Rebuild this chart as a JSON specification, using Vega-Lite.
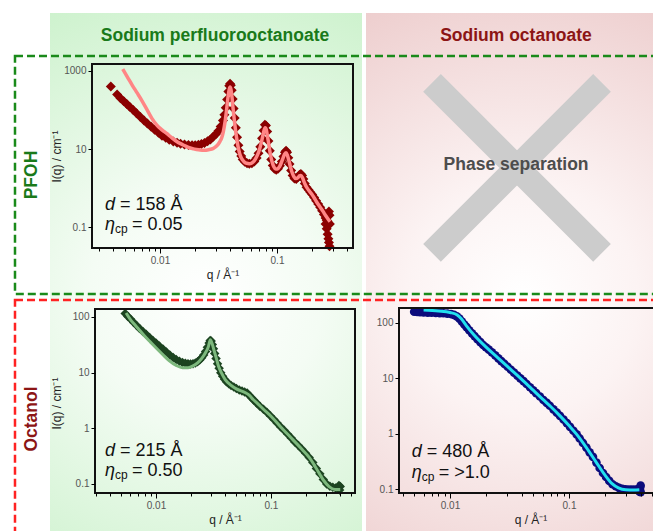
{
  "$schema": "https://vega.github.io/schema/vega-lite/v6.json",
  "width": 638,
  "height": 518,
  "padding": {"left": 15, "top": 13, "right": 0, "bottom": 0},
  "autosize": {"type": "none"},
  "background": "white",
  "config": {"view": {"stroke": null}, "font": "Liberation Sans", "axis": {"labelFont": "Liberation Sans", "titleFont": "Liberation Sans"}},
  "datasets": {
    "A_data": [
      {"q":0.0038,"I":400},{"q":0.0043,"I":250},{"q":0.0046,"I":200},{"q":0.0049,"I":168},{"q":0.0052,"I":142},{"q":0.0055,"I":122},{"q":0.0059,"I":100},{"q":0.0063,"I":83},{"q":0.0068,"I":66},{"q":0.0073,"I":54},{"q":0.0078,"I":45},{"q":0.0084,"I":37},{"q":0.009,"I":31},{"q":0.0097,"I":26},{"q":0.0104,"I":22},{"q":0.0112,"I":19.3},{"q":0.012,"I":17.3},{"q":0.013,"I":15.6},{"q":0.014,"I":14.5},{"q":0.015,"I":13.7},{"q":0.0162,"I":13.1},{"q":0.0175,"I":12.7},{"q":0.0188,"I":12.5},{"q":0.02,"I":12.5},{"q":0.0213,"I":12.8},{"q":0.0226,"I":13.4},{"q":0.024,"I":14.3},{"q":0.0255,"I":15.7},{"q":0.027,"I":17.6},{"q":0.0285,"I":20.5},{"q":0.03,"I":24},{"q":0.0315,"I":29},{"q":0.033,"I":38},{"q":0.0345,"I":54},{"q":0.0355,"I":75},{"q":0.0365,"I":115},{"q":0.0375,"I":185},{"q":0.0384,"I":300},{"q":0.0391,"I":420},{"q":0.0397,"I":470},{"q":0.0403,"I":430},{"q":0.041,"I":320},{"q":0.0418,"I":190},{"q":0.0426,"I":110},{"q":0.0435,"I":62},{"q":0.0445,"I":35},{"q":0.0456,"I":20},{"q":0.0468,"I":12.5},{"q":0.048,"I":8.6},{"q":0.0495,"I":6.6},{"q":0.051,"I":5.4},{"q":0.053,"I":4.7},{"q":0.0555,"I":4.3},{"q":0.058,"I":4.2},{"q":0.061,"I":4.3},{"q":0.064,"I":4.8},{"q":0.067,"I":5.9},{"q":0.0695,"I":7.8},{"q":0.072,"I":11.5},{"q":0.0745,"I":19},{"q":0.0768,"I":30},{"q":0.0788,"I":42},{"q":0.0805,"I":40},{"q":0.0825,"I":28},{"q":0.0845,"I":16},{"q":0.0868,"I":9},{"q":0.0893,"I":5.4},{"q":0.092,"I":3.8},{"q":0.095,"I":3.1},{"q":0.0985,"I":2.95},{"q":0.102,"I":3.1},{"q":0.106,"I":3.7},{"q":0.11,"I":4.8},{"q":0.1135,"I":6.4},{"q":0.117,"I":8.2},{"q":0.1195,"I":9},{"q":0.122,"I":8.2},{"q":0.125,"I":6},{"q":0.128,"I":4.1},{"q":0.132,"I":2.8},{"q":0.136,"I":2.1},{"q":0.141,"I":1.75},{"q":0.146,"I":1.7},{"q":0.151,"I":1.9},{"q":0.156,"I":2.2},{"q":0.16,"I":2.3},{"q":0.164,"I":2.1},{"q":0.168,"I":1.7},{"q":0.173,"I":1.3},{"q":0.179,"I":1.05},{"q":0.186,"I":0.9},{"q":0.193,"I":0.78},{"q":0.2,"I":0.68},{"q":0.208,"I":0.57},{"q":0.216,"I":0.47},{"q":0.225,"I":0.39},{"q":0.234,"I":0.32},{"q":0.243,"I":0.26},{"q":0.252,"I":0.21},{"q":0.26,"I":0.17},{"q":0.26,"I":0.12},{"q":0.266,"I":0.15},{"q":0.266,"I":0.09},{"q":0.271,"I":0.14},{"q":0.271,"I":0.065},{"q":0.275,"I":0.21},{"q":0.275,"I":0.05},{"q":0.278,"I":0.25},{"q":0.278,"I":0.04},{"q":0.281,"I":0.2},{"q":0.281,"I":0.032},{"q":0.283,"I":0.12}
    ],
    "A_fit": [
      {"q":0.0048,"I":1120},{"q":0.0053,"I":680},{"q":0.0058,"I":430},{"q":0.0064,"I":270},{"q":0.007,"I":175},{"q":0.0077,"I":105},{"q":0.0085,"I":62},{"q":0.0094,"I":41},{"q":0.0104,"I":31},{"q":0.0114,"I":25},{"q":0.0126,"I":19.5},{"q":0.014,"I":15.3},{"q":0.0158,"I":12.7},{"q":0.0175,"I":11},{"q":0.019,"I":10.2},{"q":0.0205,"I":9.7},{"q":0.022,"I":9.4},{"q":0.024,"I":9.3},{"q":0.026,"I":9.6},{"q":0.0286,"I":10.4},{"q":0.031,"I":12.5},{"q":0.0325,"I":15.5},{"q":0.0336,"I":19},{"q":0.0348,"I":28},{"q":0.036,"I":50},{"q":0.0372,"I":110},{"q":0.0382,"I":220},{"q":0.039,"I":330},{"q":0.0397,"I":390},{"q":0.0404,"I":340},{"q":0.0412,"I":220},{"q":0.042,"I":120},{"q":0.043,"I":62},{"q":0.044,"I":34},{"q":0.0452,"I":19},{"q":0.0465,"I":11.5},{"q":0.048,"I":7.6},{"q":0.0497,"I":5.8},{"q":0.052,"I":4.8},{"q":0.055,"I":4.3},{"q":0.058,"I":4.2},{"q":0.061,"I":4.4},{"q":0.064,"I":5},{"q":0.067,"I":6.3},{"q":0.07,"I":8.6},{"q":0.073,"I":13.5},{"q":0.0755,"I":21},{"q":0.0775,"I":30},{"q":0.0792,"I":35},{"q":0.081,"I":31},{"q":0.083,"I":21},{"q":0.0855,"I":12},{"q":0.088,"I":7},{"q":0.091,"I":4.6},{"q":0.094,"I":3.5},{"q":0.0975,"I":3.05},{"q":0.101,"I":3.05},{"q":0.105,"I":3.5},{"q":0.109,"I":4.5},{"q":0.113,"I":6},{"q":0.1165,"I":7.5},{"q":0.1195,"I":8},{"q":0.1225,"I":7},{"q":0.126,"I":5.2},{"q":0.13,"I":3.6},{"q":0.134,"I":2.6},{"q":0.139,"I":2},{"q":0.145,"I":1.75},{"q":0.151,"I":1.85},{"q":0.156,"I":2.05},{"q":0.16,"I":2.1},{"q":0.165,"I":1.85},{"q":0.17,"I":1.45},{"q":0.176,"I":1.15},{"q":0.183,"I":0.95},{"q":0.19,"I":0.82},{"q":0.198,"I":0.7},{"q":0.207,"I":0.57},{"q":0.217,"I":0.45},{"q":0.228,"I":0.36},{"q":0.24,"I":0.29},{"q":0.252,"I":0.23},{"q":0.264,"I":0.185},{"q":0.275,"I":0.155},{"q":0.284,"I":0.137}
    ],
    "C_data": [
      {"q":0.0054,"I":115},{"q":0.0057,"I":102},{"q":0.006,"I":92},{"q":0.0064,"I":80},{"q":0.0068,"I":70},{"q":0.0072,"I":62},{"q":0.0077,"I":55},{"q":0.0082,"I":49},{"q":0.0088,"I":43},{"q":0.0094,"I":38},{"q":0.01,"I":34},{"q":0.0107,"I":30},{"q":0.0115,"I":26.5},{"q":0.0123,"I":23.5},{"q":0.0132,"I":20.8},{"q":0.0141,"I":18.8},{"q":0.015,"I":17.2},{"q":0.016,"I":16},{"q":0.017,"I":15.2},{"q":0.018,"I":14.7},{"q":0.019,"I":14.4},{"q":0.02,"I":14.3},{"q":0.021,"I":14.4},{"q":0.022,"I":14.9},{"q":0.023,"I":15.7},{"q":0.024,"I":16.9},{"q":0.025,"I":18.5},{"q":0.026,"I":20.8},{"q":0.027,"I":24},{"q":0.028,"I":28.5},{"q":0.029,"I":34},{"q":0.0296,"I":38},{"q":0.0302,"I":37},{"q":0.0309,"I":32},{"q":0.0316,"I":27},{"q":0.0324,"I":22},{"q":0.0333,"I":18},{"q":0.0343,"I":14.5},{"q":0.0354,"I":12},{"q":0.0366,"I":10},{"q":0.038,"I":8.6},{"q":0.0395,"I":7.6},{"q":0.041,"I":6.9},{"q":0.043,"I":6.3},{"q":0.045,"I":5.9},{"q":0.0475,"I":5.5},{"q":0.05,"I":5.2},{"q":0.053,"I":4.9},{"q":0.056,"I":4.7},{"q":0.059,"I":4.5},{"q":0.062,"I":4.3},{"q":0.065,"I":3.9},{"q":0.068,"I":3.5},{"q":0.071,"I":3.2},{"q":0.075,"I":2.85},{"q":0.08,"I":2.5},{"q":0.086,"I":2.2},{"q":0.092,"I":1.95},{"q":0.099,"I":1.67},{"q":0.106,"I":1.44},{"q":0.113,"I":1.25},{"q":0.121,"I":1.07},{"q":0.13,"I":0.92},{"q":0.14,"I":0.78},{"q":0.15,"I":0.67},{"q":0.161,"I":0.57},{"q":0.173,"I":0.49},{"q":0.186,"I":0.42},{"q":0.2,"I":0.355},{"q":0.215,"I":0.3},{"q":0.231,"I":0.243},{"q":0.248,"I":0.19},{"q":0.266,"I":0.152},{"q":0.285,"I":0.121},{"q":0.305,"I":0.1},{"q":0.325,"I":0.091},{"q":0.345,"I":0.087},{"q":0.365,"I":0.085},{"q":0.385,"I":0.085},{"q":0.4,"I":0.09},{"q":0.395,"I":0.078},{"q":0.39,"I":0.094}
    ],
    "C_fit": [
      {"q":0.0055,"I":118},{"q":0.006,"I":90},{"q":0.0065,"I":74},{"q":0.007,"I":62},{"q":0.008,"I":45},{"q":0.009,"I":35},{"q":0.01,"I":28},{"q":0.0115,"I":21},{"q":0.013,"I":16.5},{"q":0.015,"I":13.5},{"q":0.017,"I":12.3},{"q":0.019,"I":12.3},{"q":0.021,"I":13.2},{"q":0.023,"I":15},{"q":0.025,"I":18},{"q":0.027,"I":23},{"q":0.0285,"I":29},{"q":0.0297,"I":39},{"q":0.0308,"I":33},{"q":0.032,"I":25},{"q":0.0335,"I":18},{"q":0.035,"I":13},{"q":0.037,"I":10},{"q":0.04,"I":7.5},{"q":0.045,"I":5.9},{"q":0.05,"I":5.1},{"q":0.055,"I":4.7},{"q":0.06,"I":4.35},{"q":0.065,"I":3.9},{"q":0.07,"I":3.3},{"q":0.075,"I":2.9},{"q":0.086,"I":2.2},{"q":0.1,"I":1.65},{"q":0.121,"I":1.07},{"q":0.15,"I":0.67},{"q":0.186,"I":0.42},{"q":0.215,"I":0.3},{"q":0.248,"I":0.19},{"q":0.285,"I":0.118},{"q":0.32,"I":0.09},{"q":0.36,"I":0.08},{"q":0.4,"I":0.08}
    ],
    "D_data": [
      {"q":0.005,"I":160},{"q":0.0053,"I":158},{"q":0.0056,"I":157},{"q":0.006,"I":155},{"q":0.0065,"I":154},{"q":0.007,"I":153},{"q":0.0076,"I":152},{"q":0.0082,"I":151},{"q":0.0088,"I":150},{"q":0.0095,"I":148},{"q":0.0102,"I":145},{"q":0.0108,"I":140},{"q":0.0114,"I":132},{"q":0.012,"I":120},{"q":0.0126,"I":106},{"q":0.0132,"I":94},{"q":0.0138,"I":84},{"q":0.0145,"I":74},{"q":0.0153,"I":65},{"q":0.0161,"I":58},{"q":0.017,"I":51},{"q":0.018,"I":45},{"q":0.019,"I":40},{"q":0.02,"I":36.5},{"q":0.0212,"I":33},{"q":0.0225,"I":29.5},{"q":0.024,"I":26},{"q":0.0255,"I":23},{"q":0.027,"I":20.5},{"q":0.0287,"I":18.2},{"q":0.0305,"I":16.2},{"q":0.0325,"I":14.3},{"q":0.0345,"I":12.7},{"q":0.0368,"I":11.2},{"q":0.039,"I":10},{"q":0.0415,"I":8.9},{"q":0.044,"I":7.9},{"q":0.047,"I":6.9},{"q":0.05,"I":6.1},{"q":0.053,"I":5.4},{"q":0.057,"I":4.7},{"q":0.061,"I":4.05},{"q":0.065,"I":3.6},{"q":0.069,"I":3.2},{"q":0.074,"I":2.75},{"q":0.079,"I":2.4},{"q":0.084,"I":2.1},{"q":0.09,"I":1.8},{"q":0.096,"I":1.55},{"q":0.102,"I":1.33},{"q":0.109,"I":1.13},{"q":0.116,"I":0.97},{"q":0.123,"I":0.82},{"q":0.131,"I":0.68},{"q":0.14,"I":0.56},{"q":0.149,"I":0.46},{"q":0.159,"I":0.38},{"q":0.17,"I":0.3},{"q":0.181,"I":0.24},{"q":0.193,"I":0.195},{"q":0.205,"I":0.165},{"q":0.218,"I":0.14},{"q":0.232,"I":0.122},{"q":0.247,"I":0.112},{"q":0.263,"I":0.105},{"q":0.28,"I":0.101},{"q":0.298,"I":0.099},{"q":0.318,"I":0.098},{"q":0.338,"I":0.098},{"q":0.36,"I":0.098},{"q":0.38,"I":0.099},{"q":0.395,"I":0.1},{"q":0.4,"I":0.115},{"q":0.4,"I":0.088},{"q":0.39,"I":0.09}
    ],
    "D_fit": [
      {"q":0.006,"I":172},{"q":0.008,"I":165},{"q":0.01,"I":155},{"q":0.0115,"I":140},{"q":0.0125,"I":118},{"q":0.0138,"I":88},{"q":0.016,"I":60},{"q":0.02,"I":37},{"q":0.025,"I":24},{"q":0.032,"I":14.8},{"q":0.04,"I":9.6},{"q":0.05,"I":6.1},{"q":0.06,"I":4.2},{"q":0.07,"I":3.1},{"q":0.084,"I":2.1},{"q":0.1,"I":1.4},{"q":0.116,"I":0.97},{"q":0.14,"I":0.56},{"q":0.17,"I":0.3},{"q":0.2,"I":0.18},{"q":0.23,"I":0.125},{"q":0.26,"I":0.105},{"q":0.3,"I":0.097},{"q":0.35,"I":0.096},{"q":0.39,"I":0.097}
    ]
  },
  "layer": [
    {
      "layer": [
        {
          "data": {"values": [{"salt": "Sodium perfluorooctanoate"}]},
          "mark": {"type": "rect", "fill": {"gradient": "radial", "x1": 0.5, "y1": 0.55, "r1": 0, "x2": 0.5, "y2": 0.55, "r2": 0.75, "stops": [{"offset": 0, "color": "#ffffff"}, {"offset": 0.3, "color": "#f4fcf4"}, {"offset": 1, "color": "#c2efc2"}]}},
          "encoding": {
            "x": {"field": "salt", "type": "nominal", "sort": null,
              "scale": {"type": "band", "domain": ["Sodium perfluorooctanoate", "Sodium octanoate"], "range": [35, 663], "paddingInner": 0.012658, "paddingOuter": 0},
              "axis": {"orient": "top", "title": null, "domain": false, "ticks": false, "labelAngle": 0, "labelAlign": "center", "labelPadding": 0, "labelBaseline": "middle", "offset": -22, "labelFontSize": 17.5, "labelFontWeight": "bold", "labelLimit": 0, "labelOverlap": false,
                "labelColor": {"condition": {"test": "datum.value === 'Sodium octanoate'", "value": "#8c1515"}, "value": "#1a7a1a"},
                "labelOffset": {"condition": {"test": "datum.value === 'Sodium octanoate'", "value": -6}, "value": 9},
                "zindex": 1}
            }
          }
        },
        {
          "data": {"values": [{"salt": "Sodium octanoate"}]},
          "mark": {"type": "rect", "fill": {"gradient": "radial", "x1": 0.5, "y1": 0.55, "r1": 0, "x2": 0.5, "y2": 0.55, "r2": 0.75, "stops": [{"offset": 0, "color": "#ffffff"}, {"offset": 0.3, "color": "#fcf3f3"}, {"offset": 1, "color": "#e9c3c3"}]}},
          "encoding": {"x": {"field": "salt", "type": "nominal", "sort": null}}
        },
        {
          "data": {"values": [{"salt": "Sodium octanoate", "solvent": "PFOH", "note": "Phase separation"}]},
          "mark": {"type": "point", "shape": "M -1 -1 L 1 1 M 1 -1 L -1 1", "size": 28900, "filled": false, "stroke": "#cccccc", "strokeWidth": 25, "strokeCap": "butt", "opacity": 1},
          "encoding": {
            "x": {"field": "salt", "type": "nominal", "sort": null, "bandPosition": 0.484},
            "y": {"field": "solvent", "type": "nominal", "sort": null, "bandPosition": 0.47}
          }
        },
        {
          "data": {"values": [{"salt": "Sodium octanoate", "solvent": "PFOH", "note": "Phase separation"}]},
          "mark": {"type": "text", "fontSize": 17.5, "fontWeight": "bold", "color": "#4d4d4d", "align": "center", "baseline": "middle"},
          "encoding": {
            "x": {"field": "salt", "type": "nominal", "sort": null, "bandPosition": 0.481},
            "y": {"field": "solvent", "type": "nominal", "sort": null, "bandPosition": 0.458},
            "text": {"field": "note"}
          }
        },
        {
          "data": {"values": [{"solvent": "PFOH", "from": "Sodium perfluorooctanoate", "to": "Sodium octanoate"}, {"solvent": "Octanol", "from": "Sodium perfluorooctanoate", "to": "Sodium octanoate"}]},
          "mark": {"type": "rect", "fill": null, "fillOpacity": 0, "strokeWidth": 2.5, "strokeDash": [8, 4]},
          "encoding": {
            "x": {"field": "from", "type": "nominal", "sort": null, "bandPosition": -0.1122},
            "x2": {"field": "to", "bandPosition": 1.2},
            "y": {"field": "solvent", "type": "nominal", "sort": null,
              "scale": {"type": "band", "domain": ["PFOH", "Octanol"], "range": [43, 525], "paddingInner": 0.02459, "paddingOuter": 0},
              "axis": {"orient": "left", "title": null, "domain": false, "ticks": false, "labelAngle": -90, "labelAlign": "center", "labelBaseline": "middle", "labelPadding": 0, "offset": -16, "labelFontSize": 17.5, "labelFontWeight": "bold", "labelLimit": 0,
                "labelColor": {"condition": {"test": "datum.value === 'Octanol'", "value": "#8c1515"}, "value": "#1a7a1a"},
                "zindex": 1}
            },
            "stroke": {"field": "solvent", "type": "nominal", "scale": {"domain": ["PFOH", "Octanol"], "range": ["#1a8a1a", "#ff2222"]}, "legend": null}
          }
        }
      ]
    },
    {
      "layer": [
        {
          "data": {"name": "A_data"},
          "mark": {"type": "point", "shape": "diamond", "filled": true, "size": 100, "opacity": 1, "color": "#8b0000"},
          "encoding": {
            "x": {"field": "q", "type": "quantitative", "scale": {"type": "log", "domain": [0.002624, 0.4463], "range": [77, 338], "nice": false},
              "axis": {"orient": "bottom", "offset": -283, "values": [0.003,0.004,0.005,0.006,0.007,0.008,0.009,0.01,0.02,0.03,0.04,0.05,0.06,0.07,0.08,0.09,0.1,0.2,0.3,0.4], "format": "~g", "labelExpr": "datum.value === 0.01 || datum.value === 0.1 ? datum.label : ''", "tickSize": {"condition": {"test": "datum.value === 0.01 || datum.value === 0.1", "value": 5}, "value": 3}, "tickColor": "#000", "domain": false, "grid": false, "labelFontSize": 10, "labelColor": "#555", "labelPadding": 2, "labelOverlap": false, "labelFlush": false, "title": "q / Å⁻¹", "titleFontSize": 12, "titleFontWeight": "normal", "titleColor": "#222", "titlePadding": 4, "zindex": 1}},
            "y": {"field": "I", "type": "quantitative", "scale": {"type": "log", "domain": [0.02896, 1511], "range": [235, 51], "nice": false},
              "axis": {"orient": "left", "offset": -77, "values": [0.1, 10, 1000], "format": "~g", "tickSize": 4, "tickColor": "#000", "domain": false, "grid": false, "labelFontSize": 10, "labelColor": "#555", "labelPadding": 2, "title": "I(q) / cm⁻¹", "titleFontSize": 12, "titleFontWeight": "normal", "titleColor": "#222", "titleX": -29, "titleY": 143, "zindex": 1}}
          }
        },
        {
          "data": {"name": "A_fit"},
          "mark": {"type": "line", "color": "#ff8585", "strokeWidth": 3.5, "interpolate": "monotone"},
          "encoding": {"x": {"field": "q", "type": "quantitative"}, "y": {"field": "I", "type": "quantitative"}}
        },
        {
          "data": {"values": [{"q0": 0.002624, "q1": 0.4463, "I0": 0.02896, "I1": 1511}]},
          "mark": {"type": "rect", "fill": null, "fillOpacity": 0, "stroke": "#111", "strokeWidth": 2},
          "encoding": {"x": {"field": "q0", "type": "quantitative"}, "x2": {"field": "q1"}, "y": {"field": "I0", "type": "quantitative"}, "y2": {"field": "I1"}}
        },
        {
          "data": {"values": [{"q": 0.00339, "I1": 0.366, "I2": 0.1125, "d": "= 158 Å", "eta": "= 0.05"}]},
          "layer": [
            {"mark": {"type": "text", "text": "d", "fontStyle": "italic", "fontSize": 18, "align": "left", "baseline": "middle", "color": "#111"},
             "encoding": {"x": {"field": "q", "type": "quantitative"}, "y": {"field": "I1", "type": "quantitative"}}},
            {"mark": {"type": "text", "fontSize": 18, "align": "left", "baseline": "middle", "color": "#111", "dx": 15},
             "encoding": {"x": {"field": "q", "type": "quantitative"}, "y": {"field": "I1", "type": "quantitative"}, "text": {"field": "d"}}},
            {"mark": {"type": "text", "text": "η", "fontStyle": "italic", "fontSize": 18, "align": "left", "baseline": "middle", "color": "#111"},
             "encoding": {"x": {"field": "q", "type": "quantitative"}, "y": {"field": "I2", "type": "quantitative"}}},
            {"mark": {"type": "text", "text": "cp", "fontSize": 12, "align": "left", "baseline": "middle", "color": "#111", "dx": 10, "dy": 4},
             "encoding": {"x": {"field": "q", "type": "quantitative"}, "y": {"field": "I2", "type": "quantitative"}}},
            {"mark": {"type": "text", "fontSize": 18, "align": "left", "baseline": "middle", "color": "#111", "dx": 27},
             "encoding": {"x": {"field": "q", "type": "quantitative"}, "y": {"field": "I2", "type": "quantitative"}, "text": {"field": "eta"}}}
          ]
        }
      ]
    },
    {
      "layer": [
        {
          "data": {"name": "C_data"},
          "mark": {"type": "point", "shape": "diamond", "filled": true, "size": 90, "opacity": 1, "color": "#1c4420"},
          "encoding": {
            "x": {"field": "q", "type": "quantitative", "scale": {"type": "log", "domain": [0.002951, 0.5376], "range": [80, 340], "nice": false},
              "axis": {"orient": "bottom", "offset": -38, "values": [0.003,0.004,0.005,0.006,0.007,0.008,0.009,0.01,0.02,0.03,0.04,0.05,0.06,0.07,0.08,0.09,0.1,0.2,0.3,0.4,0.5], "format": "~g", "labelExpr": "datum.value === 0.01 || datum.value === 0.1 ? datum.label : ''", "tickSize": {"condition": {"test": "datum.value === 0.01 || datum.value === 0.1", "value": 5}, "value": 3}, "tickColor": "#000", "domain": false, "grid": false, "labelFontSize": 10, "labelColor": "#555", "labelPadding": 2, "labelOverlap": false, "labelFlush": false, "title": "q / Å⁻¹", "titleFontSize": 12, "titleFontWeight": "normal", "titleColor": "#222", "titlePadding": 4, "zindex": 1}},
            "y": {"field": "I", "type": "quantitative", "scale": {"type": "log", "domain": [0.0689, 139.2], "range": [480, 296], "nice": false},
              "axis": {"orient": "left", "offset": -80, "values": [0.1, 1, 10, 100], "format": "~g", "tickSize": 4, "tickColor": "#000", "domain": false, "grid": false, "labelFontSize": 10, "labelColor": "#555", "labelPadding": 2, "title": "I(q) / cm⁻¹", "titleFontSize": 12, "titleFontWeight": "normal", "titleColor": "#222", "titleX": -32, "titleY": 390, "zindex": 1}}
          }
        },
        {
          "data": {"name": "C_fit"},
          "mark": {"type": "line", "color": "#7db87d", "strokeWidth": 3, "interpolate": "monotone"},
          "encoding": {"x": {"field": "q", "type": "quantitative"}, "y": {"field": "I", "type": "quantitative"}}
        },
        {
          "data": {"values": [{"q0": 0.002951, "q1": 0.5376, "I0": 0.0689, "I1": 139.2}]},
          "mark": {"type": "rect", "fill": null, "fillOpacity": 0, "stroke": "#111", "strokeWidth": 2},
          "encoding": {"x": {"field": "q0", "type": "quantitative"}, "x2": {"field": "q1"}, "y": {"field": "I0", "type": "quantitative"}, "y2": {"field": "I1"}}
        },
        {
          "data": {"values": [{"q": 0.0036, "I1": 0.3914, "I2": 0.1712, "d": "= 215 Å", "eta": "= 0.50"}]},
          "layer": [
            {"mark": {"type": "text", "text": "d", "fontStyle": "italic", "fontSize": 18, "align": "left", "baseline": "middle", "color": "#111"},
             "encoding": {"x": {"field": "q", "type": "quantitative"}, "y": {"field": "I1", "type": "quantitative"}}},
            {"mark": {"type": "text", "fontSize": 18, "align": "left", "baseline": "middle", "color": "#111", "dx": 15},
             "encoding": {"x": {"field": "q", "type": "quantitative"}, "y": {"field": "I1", "type": "quantitative"}, "text": {"field": "d"}}},
            {"mark": {"type": "text", "text": "η", "fontStyle": "italic", "fontSize": 18, "align": "left", "baseline": "middle", "color": "#111"},
             "encoding": {"x": {"field": "q", "type": "quantitative"}, "y": {"field": "I2", "type": "quantitative"}}},
            {"mark": {"type": "text", "text": "cp", "fontSize": 12, "align": "left", "baseline": "middle", "color": "#111", "dx": 10, "dy": 4},
             "encoding": {"x": {"field": "q", "type": "quantitative"}, "y": {"field": "I2", "type": "quantitative"}}},
            {"mark": {"type": "text", "fontSize": 18, "align": "left", "baseline": "middle", "color": "#111", "dx": 27},
             "encoding": {"x": {"field": "q", "type": "quantitative"}, "y": {"field": "I2", "type": "quantitative"}, "text": {"field": "eta"}}}
          ]
        }
      ]
    },
    {
      "layer": [
        {
          "data": {"name": "D_data"},
          "mark": {"type": "point", "shape": "circle", "filled": true, "size": 75, "opacity": 1, "color": "#0c0c7c"},
          "encoding": {
            "x": {"field": "q", "type": "quantitative", "scale": {"type": "log", "domain": [0.003727, 0.6046], "range": [384, 647], "nice": false},
              "axis": {"orient": "bottom", "offset": -38, "values": [0.004,0.005,0.006,0.007,0.008,0.009,0.01,0.02,0.03,0.04,0.05,0.06,0.07,0.08,0.09,0.1,0.2,0.3,0.4,0.5,0.6], "format": "~g", "labelExpr": "datum.value === 0.01 || datum.value === 0.1 ? datum.label : ''", "tickSize": {"condition": {"test": "datum.value === 0.01 || datum.value === 0.1", "value": 5}, "value": 3}, "tickColor": "#000", "domain": false, "grid": false, "labelFontSize": 10, "labelColor": "#555", "labelPadding": 2, "labelOverlap": false, "labelFlush": false, "title": "q / Å⁻¹", "titleFontSize": 12, "titleFontWeight": "normal", "titleColor": "#222", "titlePadding": 4, "zindex": 1}},
            "y": {"field": "I", "type": "quantitative", "scale": {"type": "log", "domain": [0.0847, 186.6], "range": [480, 295], "nice": false},
              "axis": {"orient": "left", "offset": -384, "values": [0.1, 1, 10, 100], "format": "~g", "tickSize": 4, "tickColor": "#000", "domain": false, "grid": false, "labelFontSize": 10, "labelColor": "#555", "labelPadding": 2, "title": null, "zindex": 1}}
          }
        },
        {
          "data": {"name": "D_fit"},
          "mark": {"type": "line", "color": "#22e0ee", "strokeWidth": 3, "interpolate": "monotone"},
          "encoding": {"x": {"field": "q", "type": "quantitative"}, "y": {"field": "I", "type": "quantitative"}}
        },
        {
          "data": {"values": [{"q0": 0.003727, "q1": 0.6046, "I0": 0.0847, "I1": 186.6}]},
          "mark": {"type": "rect", "fill": null, "fillOpacity": 0, "stroke": "#111", "strokeWidth": 2},
          "encoding": {"x": {"field": "q0", "type": "quantitative"}, "x2": {"field": "q1"}, "y": {"field": "I0", "type": "quantitative"}, "y2": {"field": "I1"}}
        },
        {
          "data": {"values": [{"q": 0.004764, "I1": 0.457, "I2": 0.1978, "d": "= 480 Å", "eta": "= >1.0"}]},
          "layer": [
            {"mark": {"type": "text", "text": "d", "fontStyle": "italic", "fontSize": 18, "align": "left", "baseline": "middle", "color": "#111"},
             "encoding": {"x": {"field": "q", "type": "quantitative"}, "y": {"field": "I1", "type": "quantitative"}}},
            {"mark": {"type": "text", "fontSize": 18, "align": "left", "baseline": "middle", "color": "#111", "dx": 15},
             "encoding": {"x": {"field": "q", "type": "quantitative"}, "y": {"field": "I1", "type": "quantitative"}, "text": {"field": "d"}}},
            {"mark": {"type": "text", "text": "η", "fontStyle": "italic", "fontSize": 18, "align": "left", "baseline": "middle", "color": "#111"},
             "encoding": {"x": {"field": "q", "type": "quantitative"}, "y": {"field": "I2", "type": "quantitative"}}},
            {"mark": {"type": "text", "text": "cp", "fontSize": 12, "align": "left", "baseline": "middle", "color": "#111", "dx": 10, "dy": 4},
             "encoding": {"x": {"field": "q", "type": "quantitative"}, "y": {"field": "I2", "type": "quantitative"}}},
            {"mark": {"type": "text", "fontSize": 18, "align": "left", "baseline": "middle", "color": "#111", "dx": 27},
             "encoding": {"x": {"field": "q", "type": "quantitative"}, "y": {"field": "I2", "type": "quantitative"}, "text": {"field": "eta"}}}
          ]
        }
      ]
    }
  ],
  "resolve": {"scale": {"x": "independent", "y": "independent"}, "axis": {"x": "independent", "y": "independent"}}
}
